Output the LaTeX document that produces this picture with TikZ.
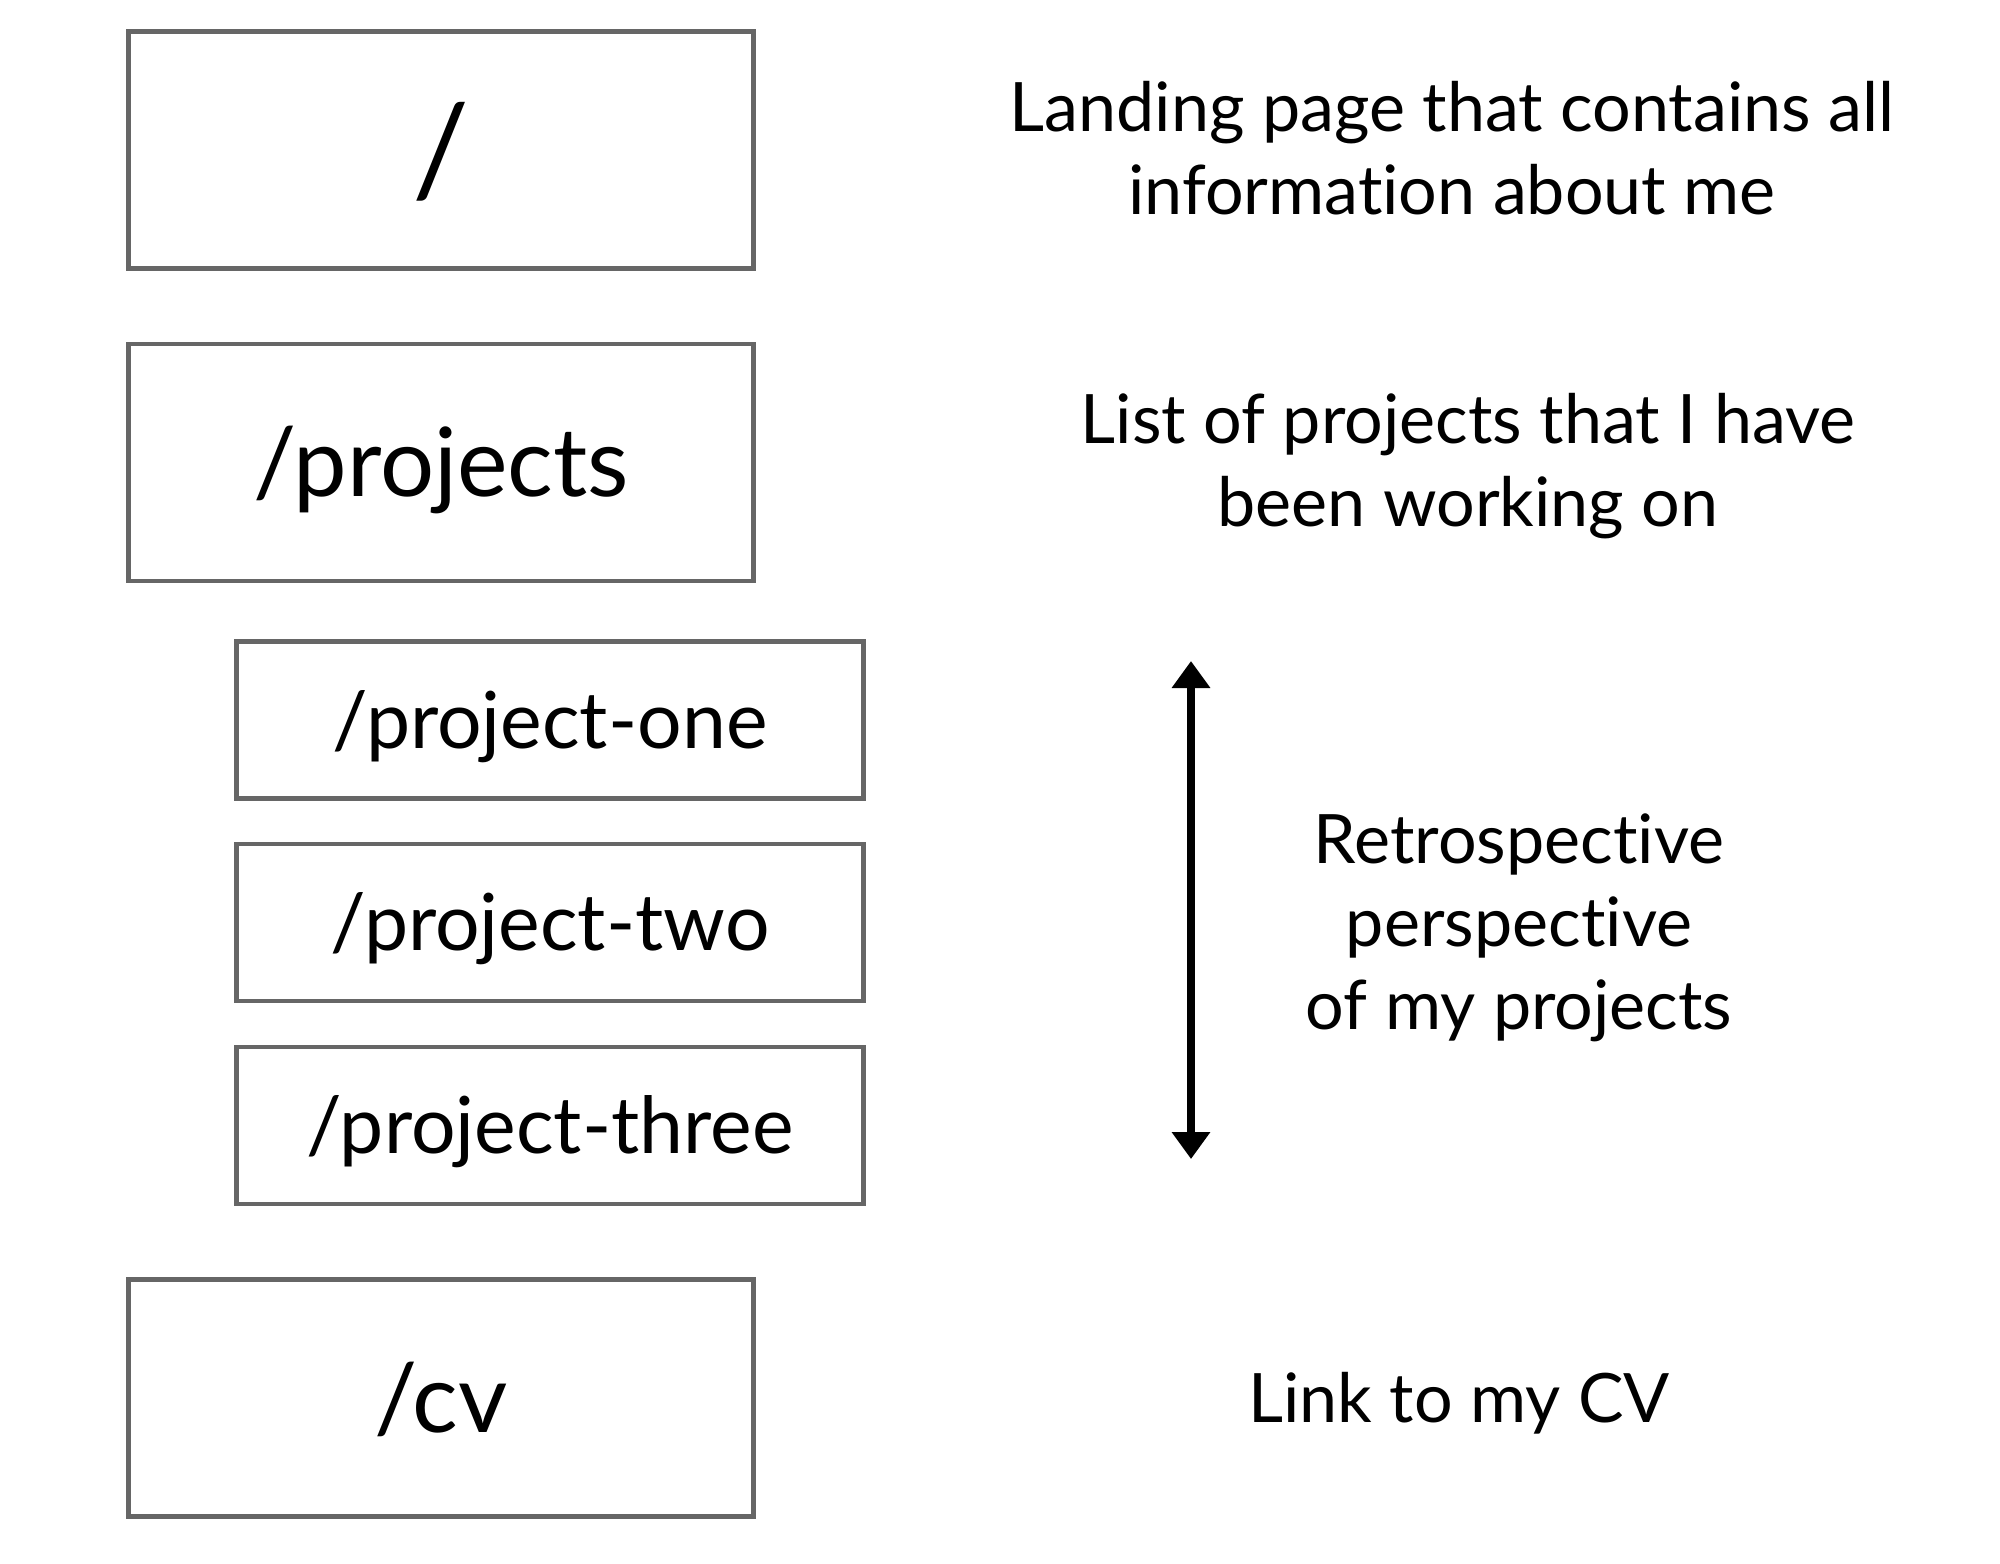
\documentclass[tikz,border=0pt]{standalone}
\usepackage{fontspec}
\setmainfont{Lato}[Ligatures=CommonOff]
\usetikzlibrary{positioning,arrows.meta}
\definecolor{boxgray}{RGB}{102,102,102}

\begin{document}
\begin{tikzpicture}[
    node distance=3.125cm,
    page/.style={rectangle, draw=boxgray, line width=1.2pt, minimum width=6.25cm, minimum height=2.37cm, inner sep=0pt, text height=24pt, text depth=4.6pt, font=\fontsize{27.2}{31}\selectfont},
    subpage/.style={page, minimum width=6.27cm, minimum height=1.57cm, text height=20pt, text depth=3.9pt, font=\fontsize{22.4}{26}\selectfont},
    note/.style={align=center, font=\fontsize{19.4}{23.6}\selectfont},
    arrow/.style={line width=2.5pt, <->, >={Triangle[width=0.37cm, length=0.27cm]}}
]
\useasboundingbox (0,0) rectangle (20,-15.63);

% Pages
\node[page, text height=30pt, text depth=4pt, font=\fontsize{36}{40}\selectfont] (root) at (4.41,-1.50) {/};
\node[page, below of=root] (projects) {/projects};
\node[subpage, below of=projects, xshift=1.09cm, yshift=0.55cm] (one) {/project-one};
\node[subpage, below of=one, yshift=1.10cm] (two) {/project-two};
\node[subpage, below of=two, yshift=1.095cm] (three) {/project-three};
\node[page, below of=three, xshift=-1.09cm, yshift=0.40cm] (cv) {/cv};

% Notes
\node[note, right of=root, xshift=6.985cm, yshift=0.02cm] (rootnote) {Landing page that contains all\\information about me};
\node[note, right of=projects, xshift=7.145cm, yshift=-0.04cm] (projnote) {List of projects that I have\\been working on};
\node[note, right of=two, xshift=6.565cm, yshift=-0.05cm] (retronote) {Retrospective\\perspective\\of my projects};
\node[note, right of=cv, xshift=7.055cm, text height=17.5pt, text depth=3.6pt] (cvnote) {Link to my CV};

% Arrow
\coordinate (arrtop) at (11.91,-6.61);
\coordinate (arrbot) at (11.91,-11.59);
\draw[arrow] (arrtop) -- (arrbot);

\end{tikzpicture}
\end{document}
